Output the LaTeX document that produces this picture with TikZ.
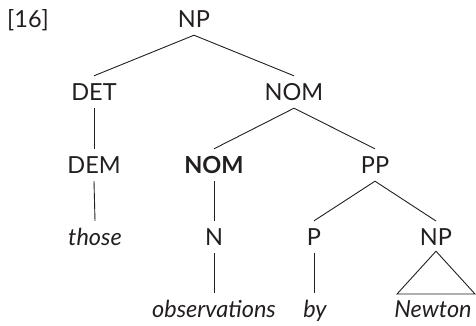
\documentclass[tikz,border=0pt]{standalone}
\usepackage{fontspec}
\setmainfont{Lato}
\definecolor{ink}{HTML}{231F20}
\newcommand{\fsz}{\fontsize{23.5}{27}\selectfont}
\begin{document}
\begin{tikzpicture}[x=1pt,y=-1pt,
  every node/.style={font=\fsz, text=ink},
  lab/.style={anchor=base, inner xsep=0pt, inner ysep=8pt, text height=16pt, text depth=0pt},
  word/.style={lab, font=\fsz\itshape},
  edge/.style={draw=ink, line width=0.9pt}]
\useasboundingbox (0,0) rectangle (476,325);
\node[anchor=base west, inner sep=0pt] (num) at (7,27) {[16]};
% row 0
\node[lab] (np0) at (194,27) {NP};
% row 1
\node[lab] (det) at (94,100) {DET};
\node[lab] (nom1) at (294,100) {NOM};
% row 2
\node[lab] (dem) at (94,173) {DEM};
\node[lab, font=\fsz\bfseries] (nomb) at (214,173) {NOM};
\node[lab] (pp) at (375,173) {PP};
% row 3
\node[word] (those) at (95,245) {those};
\node[lab] (n) at (214,245) {N};
\node[lab] (p) at (314,245) {P};
\node[lab] (np3) at (436,245) {NP};
% row 4
\node[word] (obs) at (214,317) {observations};
\node[word] (by) at (315,317) {by};
\node[word] (newton) at (433,317) {Newton};
% edges
\draw[edge] (np0.south) -- (det.north);
\draw[edge] (np0.south) -- (nom1.north);
\draw[edge] (det.south) -- (dem.north);
\draw[edge] (dem.south) -- (those.north);
\draw[edge] (nom1.south) -- (nomb.north);
\draw[edge] (nom1.south) -- (pp.north);
\draw[edge] (nomb.south) -- (n.north);
\draw[edge] (n.south) -- (obs.north -| n.south);
\draw[edge] (pp.south) -- (p.north);
\draw[edge] (pp.south) -- (np3.south |- 0,221);
\draw[edge] (p.south) -- (by.north -| p.south);
\coordinate (tl) at (397,294);
\coordinate (tr) at (475,294);
\draw[edge, line join=miter] ([yshift=2pt]np3.south) -- (tr) -- (tl) -- cycle;
\end{tikzpicture}
\end{document}
